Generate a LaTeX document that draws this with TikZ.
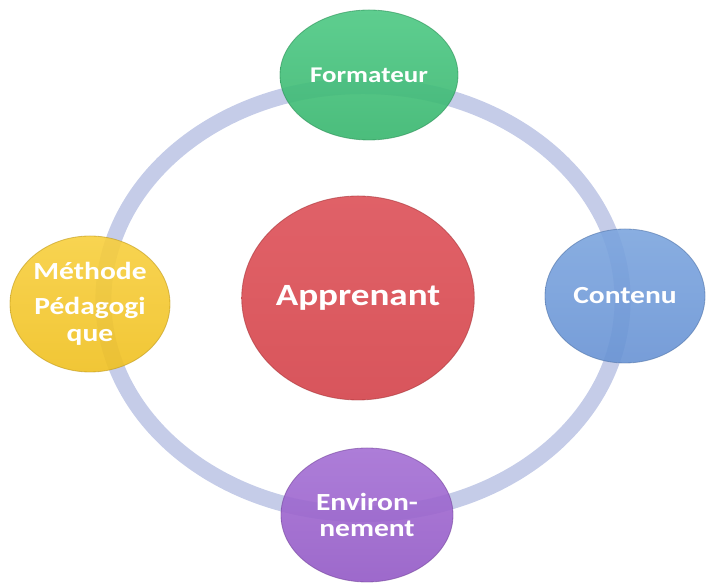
\documentclass[tikz,border=0pt]{standalone}
\usepackage{fontspec}
\setmainfont{Carlito}
\newfontfamily\bullefont[FakeStretch=1.2]{Carlito}
\usetikzlibrary{shapes.geometric}
\definecolor{anneau}{HTML}{C5CCE8}
\definecolor{vertH}{HTML}{4CC883}
\definecolor{vertB}{HTML}{38B66E}
\definecolor{jauneH}{HTML}{F7CF3E}
\definecolor{jauneB}{HTML}{F0C020}
\definecolor{bleuH}{HTML}{7CA5DE}
\definecolor{bleuB}{HTML}{6893D4}
\definecolor{violetH}{HTML}{A46FD4}
\definecolor{violetB}{HTML}{9359C6}
\definecolor{rougeH}{HTML}{DD5057}
\definecolor{rougeB}{HTML}{D4434A}
\begin{document}
\begin{tikzpicture}[
	bulle/.style={ellipse,inner sep=0pt,align=center,text=white,
		font=\bullefont\bfseries\fontsize{17.5}{19}\selectfont,
		fill opacity=0.9,draw opacity=0.6,text opacity=1,line width=0.6pt}]
	\useasboundingbox (0,0) rectangle (17.725,14.675);
	\coordinate (Centre) at (9.075,7.175);
	
	% the ring behind the five bubbles
	\draw [anneau,line width=0.4cm] (Centre) ellipse [x radius=6.49,y radius=5.35];
	
	\node (Apprenant) at (8.95,7.225) [bulle,minimum width=5.7cm,minimum height=5.1cm,
		top color=rougeH,bottom color=rougeB,draw=rougeB!80!black,
		font=\bullefont\bfseries\fontsize{22}{26}\selectfont] {Apprenant};
	\node (Formateur) at (9.225,12.8) [bulle,minimum width=4.45cm,minimum height=3.25cm,
		top color=vertH,bottom color=vertB,draw=vertB!80!black,
		font=\bullefont\bfseries\fontsize{16}{19}\selectfont] {Formateur};
	\node (Methode) at (2.25,7.075) [bulle,minimum width=3.9cm,minimum height=3.4cm,
		top color=jauneH,bottom color=jauneB,draw=jauneB!80!black] {Méthode\\[6pt]Pédagogi\\que};
	\node (Contenu) at (15.625,7.275) [bulle,minimum width=4cm,minimum height=3.35cm,
		top color=bleuH,bottom color=bleuB,draw=bleuB!80!black] {Contenu};
	\node (Environnement) at (9.175,1.8) [bulle,minimum width=4.3cm,minimum height=3.35cm,
		top color=violetH,bottom color=violetB,draw=violetB!80!black] {Environ-\\nement};
	
\end{tikzpicture}
\end{document}
